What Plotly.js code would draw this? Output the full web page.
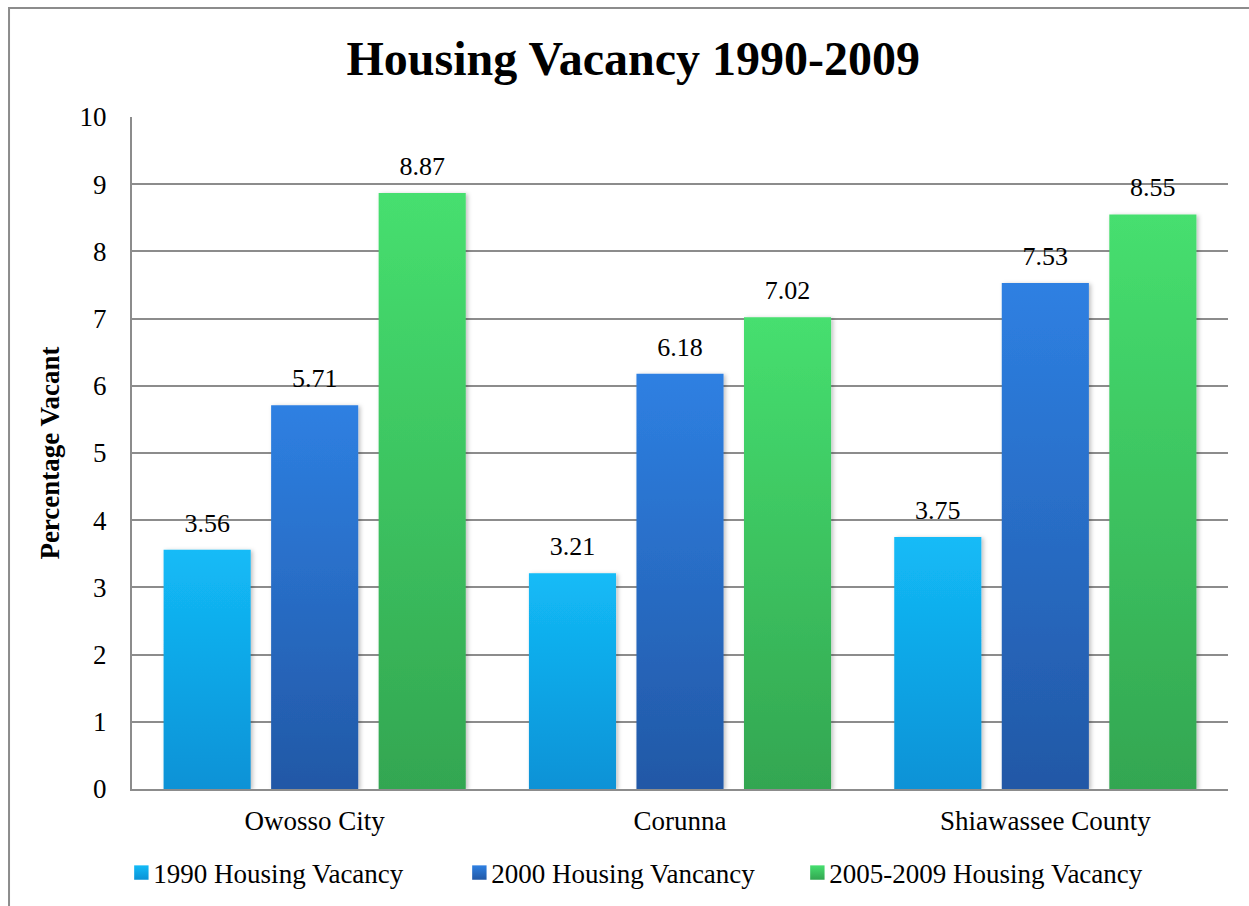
<!DOCTYPE html>
<html>
<head>
<meta charset="utf-8">
<script src="https://cdn.plot.ly/plotly-3.0.1.min.js"></script>
<style>
html,body{margin:0;padding:0;background:#fff;}
#chart{width:1249px;height:906px;}
</style>
</head>
<body>
<div id="chart"></div>
<script>
const categories = ["Owosso City", "Corunna", "Shiawassee County"];
const seriesNames = ["1990 Housing Vacancy", "2000 Housing Vancancy", "2005-2009 Housing Vacancy"];
const vac1990 = [3.56, 3.21, 3.75];
const vac2000 = [5.71, 6.18, 7.53];
const vac2009 = [8.87, 7.02, 8.55];
const yTicks = [0,1,2,3,4,5,6,7,8,9,10];

const colors = ["#0fa8ea", "#2a6fc8", "#3dc462"];
const gradStops = [
  ["#13bbf7", "#0b92d6"],
  ["#2e80e2", "#2258a6"],
  ["#46df6f", "#33a651"]
];
const font = "'Liberation Serif', 'Times New Roman', serif";

const seriesVals = [vac1990, vac2000, vac2009];
const traces = seriesVals.map((vals, i) => ({
  type: "bar",
  name: seriesNames[i],
  x: categories,
  y: vals,
  text: vals.map(v => v.toFixed(2)),
  textposition: "outside",
  cliponaxis: false,
  textfont: {family: font, size: 26, color: "#000"},
  marker: {color: colors[i], line: {width: 0}},
  hoverinfo: "x+y+name"
}));

const layout = {
  width: 1249,
  height: 906,
  margin: {l: 132, r: 21, t: 117, b: 117, autoexpand: false},
  paper_bgcolor: "#fff",
  plot_bgcolor: "#fff",
  font: {family: font, size: 26, color: "#000"},
  title: {
    text: "<b>Housing Vacancy 1990-2009</b>",
    font: {family: font, size: 48, color: "#000"},
    x: 0.507, xanchor: "center",
    y: 0.936, yanchor: "middle"
  },
  barmode: "group",
  bargap: 0.117,
  bargroupgap: 0.19,
  xaxis: {
    type: "category",
    automargin: false,
    showgrid: false,
    showline: true,
    linecolor: "#8c8c8c",
    linewidth: 2,
    ticks: "",
    ticklabelstandoff: 7,
    tickfont: {family: font, size: 27, color: "#000"},
    fixedrange: true
  },
  yaxis: {
    range: [0, 10],
    automargin: false,
    tickvals: yTicks,
    ticktext: yTicks.map(String),
    showgrid: true,
    gridcolor: "#8c8c8c",
    gridwidth: 2,
    zeroline: false,
    showline: true,
    linecolor: "#8c8c8c",
    linewidth: 2,
    ticks: "",
    ticklabelstandoff: 18,
    tickfont: {family: font, size: 27, color: "#000"},
    title: {
      text: "<b>Percentage Vacant</b>",
      font: {family: font, size: 27, color: "#000"},
      standoff: 12
    },
    fixedrange: true
  },
  legend: {
    orientation: "h",
    x: -0.017, xanchor: "left",
    y: -0.125, yanchor: "middle",
    font: {family: font, size: 27, color: "#000"},
    entrywidth: 293,
    entrywidthmode: "pixels",
    itemwidth: 30,
    traceorder: "normal"
  },
  shapes: [{
    type: "rect",
    xref: "paper", yref: "paper",
    x0: -0.1122, x1: 1.2,
    y0: -0.4, y1: 1.1622,
    line: {color: "#8c8c8c", width: 2},
    fillcolor: "rgba(0,0,0,0)",
    layer: "below"
  }],
  showlegend: true
};

function applyStyling(gd) {
  const svg = gd.querySelector("svg.main-svg");
  if (!svg) return;
  const ns = "http://www.w3.org/2000/svg";
  let defs = svg.querySelector("defs");
  if (!defs) { defs = document.createElementNS(ns, "defs"); svg.insertBefore(defs, svg.firstChild); }
  gradStops.forEach((s, i) => {
    const g = document.createElementNS(ns, "linearGradient");
    g.setAttribute("id", "bargrad" + i);
    g.setAttribute("x1", "0"); g.setAttribute("y1", "0");
    g.setAttribute("x2", "0"); g.setAttribute("y2", "1");
    [[0, s[0]], [1, s[1]]].forEach(([o, c]) => {
      const st = document.createElementNS(ns, "stop");
      st.setAttribute("offset", o);
      st.setAttribute("stop-color", c);
      g.appendChild(st);
    });
    defs.appendChild(g);
  });
  const shadow = document.createElementNS(ns, "filter");
  shadow.setAttribute("id", "barshadow");
  shadow.setAttribute("x", "-20%"); shadow.setAttribute("y", "-5%");
  shadow.setAttribute("width", "140%"); shadow.setAttribute("height", "110%");
  const fe = document.createElementNS(ns, "feDropShadow");
  fe.setAttribute("dx", "2"); fe.setAttribute("dy", "1");
  fe.setAttribute("stdDeviation", "2");
  fe.setAttribute("flood-color", "#000");
  fe.setAttribute("flood-opacity", "0.25");
  shadow.appendChild(fe);
  defs.appendChild(shadow);

  gd.querySelectorAll(".barlayer .trace").forEach((t, i) => {
    t.querySelectorAll("path").forEach(p => {
      p.style.fill = "url(#bargrad" + i + ")";
      p.style.stroke = "none";
      p.style.filter = "url(#barshadow)";
    });
    // lift the value labels a little further above the bars
    t.querySelectorAll("text.bartext").forEach(tx => {
      const tr = tx.getAttribute("transform") || "";
      tx.setAttribute("transform", "translate(0,-9) " + tr);
    });
  });
  const legendTraces = gd.querySelectorAll(".legend g.traces");
  legendTraces.forEach((t, i) => {
    t.querySelectorAll("path").forEach(p => {
      p.style.fill = "url(#bargrad" + i + ")";
      p.style.stroke = "none";
      const tr = p.getAttribute("transform") || "";
      p.setAttribute("transform", tr + " translate(8,0) scale(1.2)");
    });
  });
  gd.querySelectorAll(".legend .scrollbox, .legend").forEach(e => e.removeAttribute("clip-path"));
}

const gd = document.getElementById("chart");
Plotly.newPlot(gd, traces, layout, {displayModeBar: false, staticPlot: true}).then(applyStyling);
</script>
</body>
</html>
